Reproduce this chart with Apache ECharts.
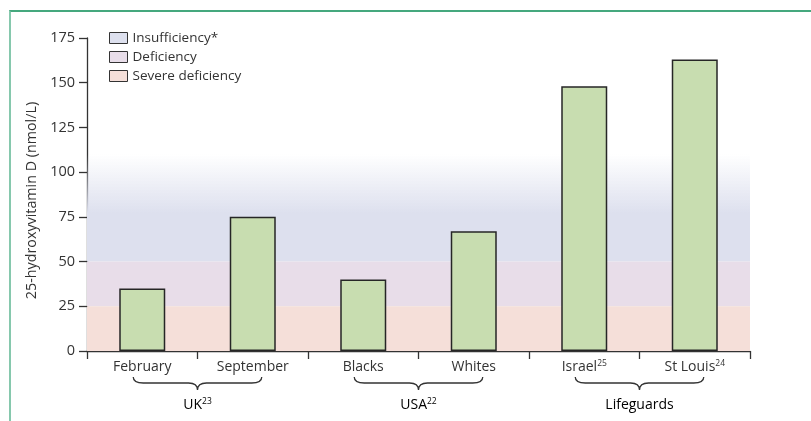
<!DOCTYPE html>
<html>
<head>
<meta charset="utf-8">
<script src="https://cdn.jsdelivr.net/npm/echarts@6/dist/echarts.min.js"></script>
<style>
  html, body { margin: 0; padding: 0; background: #fff; }
  #frame { position: absolute; left: 9px; top: 10px; width: 802px; height: 411px;
           border-top: 2px solid #45a87e; border-left: 2px solid #86c8ad; box-sizing: border-box; }
  #chart { position: absolute; left: 0; top: 0; width: 811px; height: 421px; }
</style>
</head>
<body>
<div id="frame"></div>
<div id="chart"></div>
<script>
// Serum 25-hydroxyvitamin D by population
const categories = ['February', 'September', 'Blacks', 'Whites', 'Israel', 'St Louis'];
const categoryRefs = ['', '', '', '', '25', '24'];
const values = [35, 75, 40, 67, 148, 163];

// Groups shown under the axis with a brace: [first index, last index]
const groupNames = ['UK', 'USA', 'Lifeguards'];
const groupRefs = ['23', '22', ''];
const groupSpans = [[0, 1], [2, 3], [4, 5]];

// Reference bands (nmol/L)
const bandNames = ['Insufficiency*', 'Deficiency', 'Severe deficiency'];
const bandRanges = [[50, 110], [25, 50], [0, 25]];
const bandColors = ['#dde0ee', '#e8dde9', '#f5dfd9'];

const yTicks = { min: 0, max: 175, interval: 25 };

const FONT = '"Open Sans", "Noto Sans", sans-serif';
const TEXT = '#333';

const chart = echarts.init(document.getElementById('chart'), null, { renderer: 'canvas' });

const supRich = {
  base: { fontSize: 14, fontFamily: FONT, color: TEXT, lineHeight: 17, verticalAlign: 'bottom' },
  sup: { fontSize: 8.5, fontFamily: FONT, color: TEXT, lineHeight: 17, verticalAlign: 'bottom', padding: [0, 0, 6, 0] }
};

function withSup(name, ref) {
  return ref ? '{base|' + name + '}{sup|' + ref + '}' : '{base|' + name + '}';
}

function bandFill(i) {
  if (i === 0) {
    // insufficiency band fades out towards its upper edge
    return new echarts.graphic.LinearGradient(0, 0, 0, 1, [
      { offset: 0, color: 'rgba(221,224,238,0)' },
      { offset: 0.55, color: 'rgba(221,224,238,1)' },
      { offset: 1, color: 'rgba(221,224,238,1)' }
    ]);
  }
  return bandColors[i];
}

const bandSeries = bandNames.map((name, i) => ({
  name: name,
  type: 'bar',
  data: [],
  z: 1,
  itemStyle: { color: bandColors[i], borderColor: '#333', borderWidth: 1 },
  markArea: {
    silent: true,
    itemStyle: { color: bandFill(i), borderWidth: 0 },
    data: [[{ yAxis: bandRanges[i][0] }, { yAxis: bandRanges[i][1] }]]
  }
}));

const option = {
  animation: false,
  grid: { left: 87, right: 61, top: 38, bottom: 70, containLabel: false },
  legend: {
    orient: 'vertical',
    left: 104,
    top: 26,
    itemWidth: 18,
    itemHeight: 11,
    itemGap: 5,
    selectedMode: false,
    textStyle: { fontSize: 13.5, lineHeight: 14, fontFamily: FONT, color: TEXT },
    data: bandNames.map((n, i) => ({
      name: n,
      icon: 'rect',
      itemStyle: { color: bandColors[i], borderColor: '#333', borderWidth: 1 }
    }))
  },
  xAxis: {
    type: 'category',
    data: categories,
    axisLine: { lineStyle: { color: '#333', width: 1.3 } },
    axisTick: { show: true, interval: 0, length: 8, lineStyle: { color: '#333', width: 1.3 } },
    axisLabel: {
      interval: 0,
      margin: 6,
      formatter: (v, idx) => withSup(v, categoryRefs[idx]),
      rich: supRich
    }
  },
  yAxis: {
    type: 'value',
    min: yTicks.min,
    max: yTicks.max,
    interval: yTicks.interval,
    name: '25-hydroxyvitamin D (nmol/L)',
    nameLocation: 'middle',
    nameGap: 48,
    nameTextStyle: { fontSize: 14.3, fontFamily: FONT, color: TEXT, padding: [0, 12, 0, 0] },
    axisLine: { show: true, lineStyle: { color: '#333', width: 1.3 } },
    axisTick: { show: true, length: 8, lineStyle: { color: '#333', width: 1.3 } },
    axisLabel: { margin: 12, fontSize: 14.5, fontFamily: FONT, color: TEXT },
    splitLine: { show: false }
  },
  series: [
    ...bandSeries,
    {
      name: 'values',
      type: 'bar',
      data: values,
      barWidth: 46,
      z: 5,
      itemStyle: { color: '#c8ddb0', borderColor: '#262626', borderWidth: 1.5 }
    },
    {
      // braces and group names under the category labels
      type: 'custom',
      clip: false,
      silent: true,
      z: 5,
      encode: { x: [0, 1], y: 2 },
      data: groupSpans.map((s, i) => [s[0], s[1], 0, i]),
      renderItem: function (params, api) {
        const a = api.coord([api.value(0), 0]);
        const b = api.coord([api.value(1), 0]);
        const gi = api.value(3);
        const x0 = a[0] - 9, x1 = b[0] + 9, xm = (x0 + x1) / 2;
        const y0 = a[1] + 26, h = 6, tip = 13;
        const d = 'M' + x0 + ',' + y0 +
          ' Q' + x0 + ',' + (y0 + h) + ' ' + (x0 + 10) + ',' + (y0 + h) +
          ' L' + (xm - 9) + ',' + (y0 + h) +
          ' Q' + xm + ',' + (y0 + h) + ' ' + xm + ',' + (y0 + tip) +
          ' Q' + xm + ',' + (y0 + h) + ' ' + (xm + 9) + ',' + (y0 + h) +
          ' L' + (x1 - 10) + ',' + (y0 + h) +
          ' Q' + x1 + ',' + (y0 + h) + ' ' + x1 + ',' + y0;
        return {
          type: 'group',
          children: [
            {
              type: 'path',
              shape: { pathData: d },
              style: { fill: null, stroke: '#333', lineWidth: 1.3 }
            },
            {
              type: 'text',
              x: xm,
              y: y0 + 27,
              style: {
                text: withSup(groupNames[gi], groupRefs[gi]),
                rich: supRich,
                align: 'center',
                verticalAlign: 'middle'
              }
            }
          ]
        };
      }
    }
  ]
};

chart.setOption(option);
</script>
</body>
</html>
